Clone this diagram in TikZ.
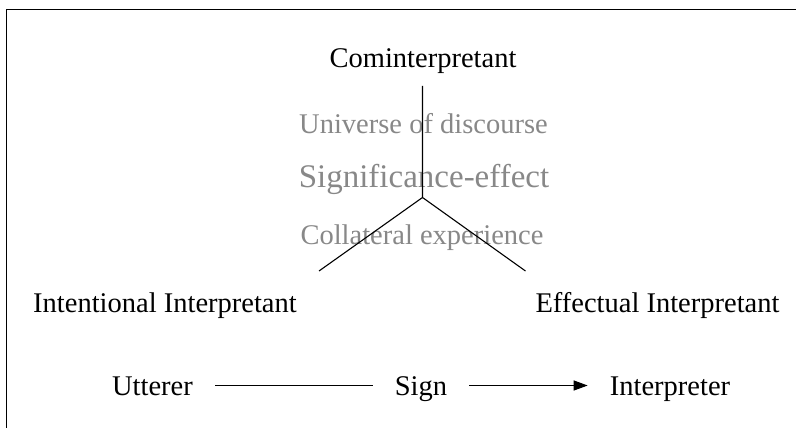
\documentclass[tikz,border=0pt]{standalone}
\usepackage{fontspec}
\setmainfont{Liberation Serif}
\usetikzlibrary{arrows.meta}
\definecolor{softgray}{RGB}{136,136,136}
\tikzset{
  lbl/.style={inner sep=0pt, font=\fontsize{28.5}{34}\selectfont, anchor=base},
  graylbl/.style={lbl, text=softgray},
  biglbl/.style={lbl, text=softgray, font=\fontsize{33}{40}\selectfont},
  rowlbl/.style={lbl, inner xsep=22pt, text height=22pt, text depth=3pt},
  conn/.style={line width=1.1pt, black},
  frameline/.style={line width=1.3pt, black}
}
\begin{document}
\begin{tikzpicture}[x=1pt,y=-1pt]
\useasboundingbox (0,0) rectangle (796,428);
\draw[frameline] (6.5,428) -- (6.5,9.5) -- (796,9.5);
% top part
\node[lbl] (com) at (423,68) {Cominterpretant};
\node[graylbl] (univ) at (423.5,133) {Universe of discourse};
\node[biglbl] (sig) at (424,187) {Significance-effect};
\node[graylbl] (coll) at (422,244) {Collateral experience};
\node[lbl] (intent) at (165,312) {Intentional Interpretant};
\node[lbl] (effect) at (657.5,312) {Effectual Interpretant};
\coordinate (top) at (422.5,86);
\coordinate (j) at (422.5,197.5);
\coordinate (bl) at (319,271);
\coordinate (br) at (525.5,271);
\draw[conn] (top) -- (j) -- (bl) (j) -- (br);
% bottom row
\node[rowlbl] (utt) at (152.5,395) {Utterer};
\node[rowlbl] (sign) at (421,395) {Sign};
\node[rowlbl] (interp) at (670,395) {Interpreter};
\draw[conn] (utt) -- (sign);
\draw[conn, -{Triangle[length=14pt,width=10pt]}] (sign) -- (interp);
\end{tikzpicture}
\end{document}
